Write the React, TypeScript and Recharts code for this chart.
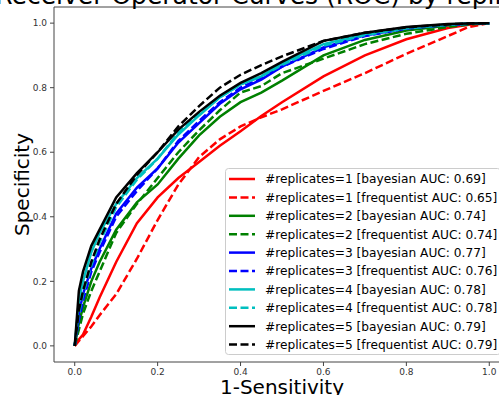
import React from 'react';
import { LineChart, Line, XAxis, YAxis, ReferenceLine, Legend } from 'recharts';

const FPR = [0, 0.01, 0.02, 0.04, 0.06, 0.1, 0.15, 0.2, 0.25, 0.3, 0.35, 0.4, 0.45, 0.5, 0.6, 0.7, 0.8, 0.9, 0.95, 1];

const B1 = [0, 0.02, 0.035, 0.09, 0.15, 0.26, 0.38, 0.46, 0.52, 0.57, 0.62, 0.665, 0.712, 0.755, 0.835, 0.9, 0.95, 0.985, 0.995, 1];
const F1 = [0, 0.015, 0.03, 0.06, 0.095, 0.16, 0.27, 0.39, 0.5, 0.585, 0.64, 0.68, 0.708, 0.733, 0.79, 0.845, 0.905, 0.96, 0.988, 1];
const B2 = [0, 0.07, 0.12, 0.2, 0.26, 0.36, 0.445, 0.5, 0.58, 0.652, 0.71, 0.755, 0.785, 0.822, 0.9, 0.948, 0.977, 0.993, 0.998, 1];
const F2 = [0, 0.05, 0.1, 0.17, 0.23, 0.35, 0.44, 0.52, 0.6, 0.668, 0.73, 0.785, 0.805, 0.845, 0.89, 0.935, 0.967, 0.988, 0.996, 1];
const B3 = [0, 0.1, 0.16, 0.24, 0.3, 0.41, 0.49, 0.55, 0.63, 0.69, 0.75, 0.795, 0.825, 0.865, 0.925, 0.962, 0.984, 0.995, 0.998, 1];
const F3 = [0, 0.08, 0.14, 0.23, 0.29, 0.4, 0.48, 0.55, 0.635, 0.697, 0.755, 0.8, 0.83, 0.865, 0.92, 0.96, 0.983, 0.995, 0.998, 1];
const B4 = [0, 0.14, 0.2, 0.29, 0.35, 0.44, 0.52, 0.58, 0.655, 0.714, 0.77, 0.81, 0.835, 0.875, 0.935, 0.966, 0.986, 0.996, 0.999, 1];
const F4 = [0, 0.1, 0.16, 0.25, 0.32, 0.43, 0.515, 0.58, 0.66, 0.72, 0.77, 0.81, 0.835, 0.87, 0.93, 0.963, 0.984, 0.995, 0.998, 1];
const B5 = [0, 0.17, 0.23, 0.31, 0.36, 0.46, 0.535, 0.6, 0.67, 0.725, 0.775, 0.815, 0.845, 0.88, 0.945, 0.97, 0.988, 0.997, 0.999, 1];
const F5 = [0, 0.11, 0.17, 0.26, 0.33, 0.44, 0.53, 0.6, 0.68, 0.743, 0.8, 0.84, 0.87, 0.897, 0.945, 0.97, 0.987, 0.996, 0.999, 1];

const REPLICATES = [1, 2, 3, 4, 5];
const BAYES_AUC = [0.69, 0.74, 0.77, 0.78, 0.79];
const FREQ_AUC = [0.65, 0.74, 0.76, 0.78, 0.79];
const COLORS = ['#ff0000', '#008000', '#0000ff', '#00bfbf', '#000000'];
const BAYES_SERIES = [B1, B2, B3, B4, B5];
const FREQ_SERIES = [F1, F2, F3, F4, F5];
const TICKS = [0, 0.2, 0.4, 0.6, 0.8, 1.0];

const TITLE = 'Receiver Operator Curves (ROC) by replicates';
const X_LABEL = '1-Sensitivity';
const Y_LABEL = 'Specificity';

const FONT = '"DejaVu Sans", sans-serif';
const DASH = '8 3.5';

type S = { key: string; label: string; color: string; dashed: boolean; values: number[] };
const SERIES: S[] = [];
REPLICATES.forEach((r, i) => {
  SERIES.push({ key: `b${r}`, label: `#replicates=${r} [bayesian AUC: ${BAYES_AUC[i].toFixed(2)}]`, color: COLORS[i], dashed: false, values: BAYES_SERIES[i] });
  SERIES.push({ key: `f${r}`, label: `#replicates=${r} [frequentist AUC: ${FREQ_AUC[i].toFixed(2)}]`, color: COLORS[i], dashed: true, values: FREQ_SERIES[i] });
});

const DATA = FPR.map((x, j) => {
  const row: Record<string, number> = { x };
  SERIES.forEach((s) => { row[s.key] = s.values[j]; });
  return row;
});

const LEG_W = 276;
const LEG_H = 187;

function LegendBox() {
  return (
    <svg width={LEG_W} height={LEG_H} style={{ display: 'block' }}>
      <rect x={0.5} y={0.5} width={LEG_W - 1} height={LEG_H - 1} rx={3} ry={3} fill="rgba(255,255,255,0.85)" stroke="#cccccc" strokeWidth={1} />
      {SERIES.map((s, i) => {
        const cy = 11 + i * 18.4;
        return (
          <g key={s.key}>
            <line x1={4} x2={30} y1={cy} y2={cy} stroke={s.color} strokeWidth={2.5} strokeDasharray={s.dashed ? DASH : undefined} />
            <text x={40} y={cy + 4.4} fontSize={12.2} fontFamily={FONT} fill="#000">{s.label}</text>
          </g>
        );
      })}
    </svg>
  );
}

export default function App() {
  const fmt = (v: number) => v.toFixed(1);
  return (
    <div style={{ position: 'absolute', left: 0, top: 0, width: 499, height: 395, overflow: 'hidden', background: '#fff' }}>
      <LineChart width={520} height={395} data={DATA} margin={{ top: 7, right: 10, bottom: 13, left: 0 }}>
        <XAxis
          dataKey="x"
          type="number"
          domain={[-0.05, 1.05]}
          ticks={TICKS}
          tickFormatter={fmt}
          allowDataOverflow
          height={20}
          tickSize={4}
          tickMargin={3}
          stroke="#444"
          tick={{ fontSize: 9, fill: '#333', fontFamily: FONT }}
        />
        <YAxis
          type="number"
          domain={[-0.05, 1.05]}
          ticks={TICKS}
          tickFormatter={fmt}
          allowDataOverflow
          width={54}
          tickSize={4}
          tickMargin={3}
          stroke="#444"
          tick={{ fontSize: 9, fill: '#333', fontFamily: FONT }}
        />
        <ReferenceLine y={1.05} stroke="#444" strokeWidth={1} ifOverflow="extendDomain" />
        {SERIES.map((s) => (
          <Line
            key={s.key}
            dataKey={s.key}
            type="linear"
            stroke={s.color}
            strokeWidth={2.5}
            strokeDasharray={s.dashed ? DASH : undefined}
            dot={false}
            activeDot={false}
            isAnimationActive={false}
          />
        ))}
        <Legend
          layout="horizontal"
          align="center"
          verticalAlign="middle"
          content={() => <LegendBox />}
          wrapperStyle={{ left: 225, top: 168, width: LEG_W, height: LEG_H, margin: 0, padding: 0 }}
        />
      </LineChart>
      <svg width={499} height={395} style={{ position: 'absolute', left: 0, top: 0, pointerEvents: 'none' }}>
        <text x={282} y={4} textAnchor="middle" fontSize={25} fontFamily={FONT} fill="#000">{TITLE}</text>
        <text x={282} y={394} textAnchor="middle" fontSize={20} fontFamily={FONT} fill="#000">{X_LABEL}</text>
        <text transform="translate(29,184.5) rotate(-90)" textAnchor="middle" fontSize={20} fontFamily={FONT} fill="#000">{Y_LABEL}</text>
      </svg>
    </div>
  );
}
